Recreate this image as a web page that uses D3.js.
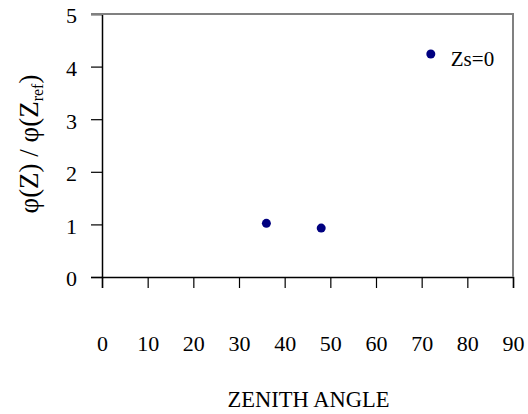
<!DOCTYPE html>
<html>
<head>
<meta charset="utf-8">
<script src="https://cdn.jsdelivr.net/npm/d3@7"></script>
</head>
<body style="margin:0">
<svg id="zenith-plot" width="528" height="414"></svg>
<script>
// Zenith angle (degrees) and the normalised ratio φ(Z)/φ(Zref)
const zenithAngles = [36, 48, 72];
const ratios = [1.02, 0.93, 4.24];
const xTicks = [0, 10, 20, 30, 40, 50, 60, 70, 80, 90];
const yTicks = [0, 1, 2, 3, 4, 5];
const seriesLabel = "Zs=0";

const FONT = '"Liberation Serif"';
const svg = d3.select("#zenith-plot");
const plotLeft = 102, plotRight = 513, plotTop = 14, plotBottom = 277;

const x = d3.scaleLinear().domain([0, 90]).range([plotLeft, plotRight]);
const y = d3.scaleLinear().domain([0, 5]).range([plotBottom, plotTop]);

// every label is set in a Times-style serif face
function serif(sel, size) {
  return sel.style("font-family", FONT).style("font-size", size + "px").attr("fill", "#000");
}

// y axis
const yAxis = svg.append("g")
  .attr("transform", `translate(${plotLeft},0)`)
  .call(d3.axisLeft(y).tickValues(yTicks).tickSize(11).tickPadding(14).tickFormat(d3.format("d")));
yAxis.select(".domain").attr("stroke", "#000").attr("stroke-width", 1.5);
yAxis.selectAll(".tick line").attr("stroke", "#000").attr("stroke-width", 1.2);
yAxis.selectAll(".tick text").remove();
serif(yAxis.selectAll(".tick").append("text"), 22)
  .attr("x", -25).attr("dy", "0.4em").attr("text-anchor", "end")
  .text(d => d3.format("d")(d));

// x axis
const xAxis = svg.append("g")
  .attr("transform", `translate(0,${plotBottom})`)
  .call(d3.axisBottom(x).tickValues(xTicks).tickSize(11).tickFormat(d3.format("d")));
xAxis.select(".domain").attr("stroke", "#000").attr("stroke-width", 1.5);
xAxis.selectAll(".tick line").attr("stroke", "#000").attr("stroke-width", 1.2);
xAxis.selectAll(".tick text").remove();
serif(xAxis.selectAll(".tick").append("text"), 22)
  .attr("y", 73.5).attr("text-anchor", "middle")
  .text(d => d3.format("d")(d));

// grey frame on the top and right edges
svg.append("path")
  .attr("d", `M${plotLeft - 11},${plotTop}H${plotRight}V${plotBottom}`)
  .attr("fill", "none").attr("stroke", "#808080").attr("stroke-width", 2);

// data points
svg.append("g").selectAll("circle")
  .data(zenithAngles.map((z, i) => ({ z, r: ratios[i] })))
  .join("circle")
  .attr("cx", d => x(d.z))
  .attr("cy", d => y(d.r))
  .attr("r", 4.5)
  .attr("fill", "#000080");

// label next to the last point
serif(svg.append("text"), 21)
  .attr("x", x(zenithAngles[2]) + 20)
  .attr("y", y(ratios[2]) + 12.5)
  .text(seriesLabel);

// axis titles
serif(svg.append("text"), 22.5)
  .attr("x", (plotLeft + plotRight) / 2 + 1)
  .attr("y", 406.5)
  .attr("text-anchor", "middle")
  .text("ZENITH ANGLE");

const yt = serif(svg.append("text"), 27)
  .attr("transform", "translate(38,144) rotate(-90)")
  .attr("text-anchor", "middle");
yt.append("tspan").text("φ(Z) / φ(Z");
yt.append("tspan").style("font-size", "16px").attr("dy", 5).text("ref");
yt.append("tspan").attr("dy", -5).text(")");
</script>
</body>
</html>
